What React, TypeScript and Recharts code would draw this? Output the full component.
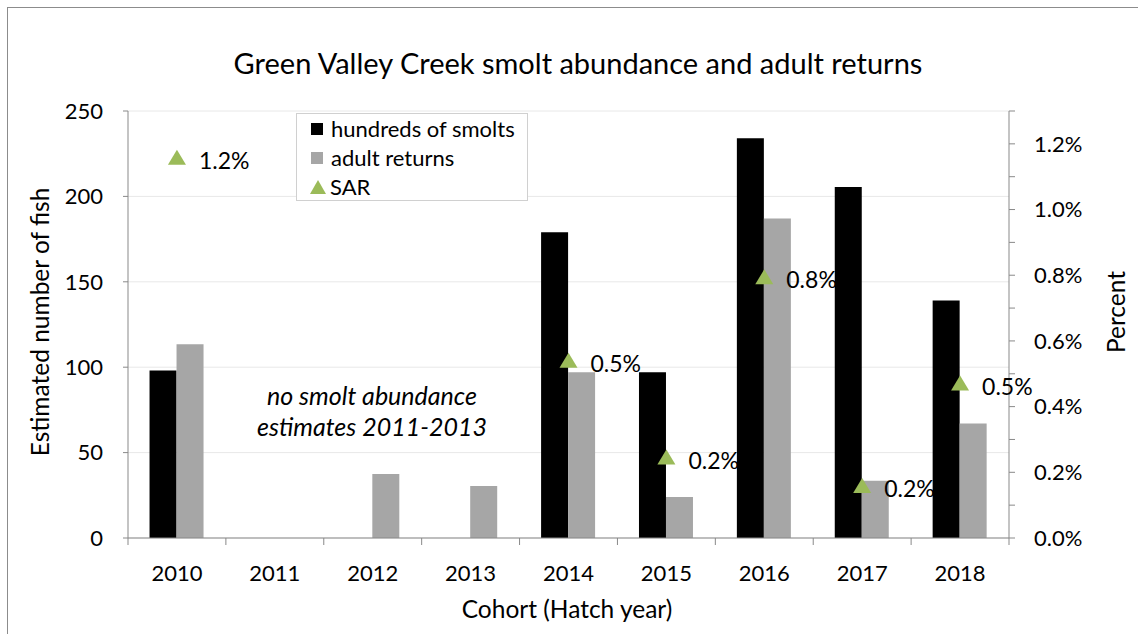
import {
  ComposedChart,
  Bar,
  Line,
  XAxis,
  YAxis,
  CartesianGrid,
  Legend,
  LabelList,
} from 'recharts'

const years = ['2010', '2011', '2012', '2013', '2014', '2015', '2016', '2017', '2018']
const smolts = [98, null, null, null, 179, 97, 234, 205.5, 139]
const adultReturns = [113.5, null, 37.5, 30.5, 97, 24, 187, 33.5, 67]
const sarPct = [1.158, null, null, null, 0.54, 0.245, 0.794, 0.158, 0.47]

const countTicks = [0, 50, 100, 150, 200, 250]
const pctTicks = [0, 0.1, 0.2, 0.3, 0.4, 0.5, 0.6, 0.7, 0.8, 0.9, 1.0, 1.1, 1.2, 1.3]

const data = years.map((year, i) => ({
  year,
  smolts: smolts[i],
  returns: adultReturns[i],
  sar: sarPct[i],
}))

const FONT = 'Lato, "Open Sans", sans-serif'
const AXIS = '#898989'
const GREEN = '#9bbb59'
const TEXT = '#000'

function SarDot(props: any) {
  const { cx, cy, value, index } = props
  if (value == null || cx == null || cy == null) return <g key={index} />
  return (
    <path
      key={index}
      d={`M${cx},${cy - 8} L${cx + 9},${cy + 7} L${cx - 9},${cy + 7} Z`}
      fill={GREEN}
    />
  )
}

function SarLabel(props: any) {
  const { x, y, value } = props
  if (value == null) return null
  return (
    <text x={x + 22} y={y + 2} dominantBaseline="central" fontSize={23} fill={TEXT} fontFamily={FONT}>
      {Number(value).toFixed(1)}%
    </text>
  )
}

function YearTick(props: any) {
  const { x, y, payload, index } = props
  const half = payload.offset ?? 881 / 18
  return (
    <g>
      <line x1={x - half} x2={x - half} y1={y} y2={y + 7} stroke={AXIS} />
      {index === years.length - 1 && (
        <line x1={x + half} x2={x + half} y1={y} y2={y + 7} stroke={AXIS} />
      )}
      <text x={x} y={y + 34} textAnchor="middle" dominantBaseline="central" fontSize={22} fill={TEXT} fontFamily={FONT}>
        {payload.value}
      </text>
    </g>
  )
}

function LegendBox() {
  const rows = [
    { label: 'hundreds of smolts', color: '#000', tri: false },
    { label: 'adult returns', color: '#a6a6a6', tri: false },
    { label: 'SAR', color: GREEN, tri: true },
  ]
  return (
    <div style={{ fontFamily: FONT, fontSize: 22, color: TEXT, padding: '0 0 0 13px' }}>
      {rows.map((r) => (
        <div key={r.label} style={{ display: 'flex', alignItems: 'center', height: 29 }}>
          {r.tri ? (
            <svg width={16} height={14} style={{ marginRight: 4 }}>
              <path d="M8,0 L16,14 L0,14 Z" fill={r.color} />
            </svg>
          ) : (
            <span style={{ display: 'inline-block', width: 12, height: 12, background: r.color, marginRight: 8, marginLeft: 1 }} />
          )}
          <span>{r.label}</span>
        </div>
      ))}
    </div>
  )
}

export default function App() {
  return (
    <div style={{ position: 'fixed', left: 0, top: 0, width: 1138, height: 634, overflow: 'hidden', background: '#fff' }}>
      <div
        style={{
          position: 'absolute',
          left: 7,
          top: 7,
          width: 1200,
          height: 700,
          border: '1px solid #8c8c8c',
        }}
      />
      <div style={{ position: 'absolute', left: 0, top: 0 }}>
        <ComposedChart
          width={1138}
          height={634}
          data={data}
          margin={{ top: 111, right: 0, bottom: 0, left: 0 }}
          barGap={0}
          barCategoryGap="22%"
        >
          <CartesianGrid yAxisId="count" vertical={false} stroke="#e8e8e8" />
          <XAxis
            dataKey="year"
            height={96}
            axisLine={{ stroke: AXIS }}
            tickLine={false}
            tickSize={0}
            tickMargin={0}
            tick={<YearTick />}
            interval={0}
          />
          <YAxis
            yAxisId="count"
            orientation="left"
            width={128}
            domain={[0, 250]}
            ticks={countTicks}
            axisLine={{ stroke: AXIS }}
            tickLine={{ stroke: AXIS }}
            tickSize={5}
            tickMargin={20}
            tick={{ fontSize: 22, fill: TEXT, fontFamily: FONT }}
          />
          <YAxis
            yAxisId="pct"
            orientation="right"
            width={129}
            domain={[0, 1.3]}
            ticks={pctTicks}
            interval={0}
            axisLine={{ stroke: AXIS }}
            tickLine={{ stroke: AXIS }}
            tickSize={6}
            tickMargin={19}
            tick={{ fontSize: 22, fill: TEXT, fontFamily: FONT }}
            tickFormatter={(v: number) => (Math.round(v * 10) % 2 === 0 ? `${v.toFixed(1)}%` : '')}
          />
          <Legend
            layout="vertical"
            align="center"
            verticalAlign="middle"
            content={<LegendBox />}
            wrapperStyle={{
              position: 'absolute',
              left: 296,
              top: 113,
              width: 232,
              height: 88,
              boxSizing: 'border-box',
              border: '1px solid #d0d0d0',
              background: '#fff',
            }}
          />
          <Bar yAxisId="count" dataKey="smolts" name="hundreds of smolts" fill="#000" isAnimationActive={false} />
          <Bar yAxisId="count" dataKey="returns" name="adult returns" fill="#a6a6a6" isAnimationActive={false} />
          <Line
            yAxisId="pct"
            dataKey="sar"
            name="SAR"
            stroke="none"
            dot={<SarDot />}
            activeDot={false}
            isAnimationActive={false}
          >
            <LabelList dataKey="sar" content={<SarLabel />} />
          </Line>
        </ComposedChart>
      </div>
      <div style={{ position: 'absolute', left: 0, width: 1138, top: 45, lineHeight: '36px', textAlign: 'center', fontFamily: FONT, fontSize: 29, color: TEXT }}>
        <span style={{ position: 'relative', left: 9 }}>Green Valley Creek smolt abundance and adult returns</span>
      </div>
      <div style={{ position: 'absolute', left: 222, width: 300, top: 380, textAlign: 'center', fontFamily: FONT, fontSize: 25, fontStyle: 'italic', color: TEXT, lineHeight: '31px' }}>
        no smolt abundance
        <br />
        estimates 2011-2013
      </div>
      <div style={{ position: 'absolute', left: 417, width: 300, top: 594, lineHeight: '30px', textAlign: 'center', fontFamily: FONT, fontSize: 24.5, color: TEXT }}>
        Cohort (Hatch year)
      </div>
      <div style={{ position: 'absolute', left: 39, top: 322, width: 0, height: 0 }}>
        <div style={{ position: 'absolute', transform: 'translate(-50%, -50%) rotate(-90deg)', whiteSpace: 'nowrap', fontFamily: FONT, fontSize: 24.5, color: TEXT }}>
          Estimated number of fish
        </div>
      </div>
      <div style={{ position: 'absolute', left: 1115, top: 312, width: 0, height: 0 }}>
        <div style={{ position: 'absolute', transform: 'translate(-50%, -50%) rotate(-90deg)', whiteSpace: 'nowrap', fontFamily: FONT, fontSize: 24.5, color: TEXT }}>
          Percent
        </div>
      </div>
    </div>
  )
}
